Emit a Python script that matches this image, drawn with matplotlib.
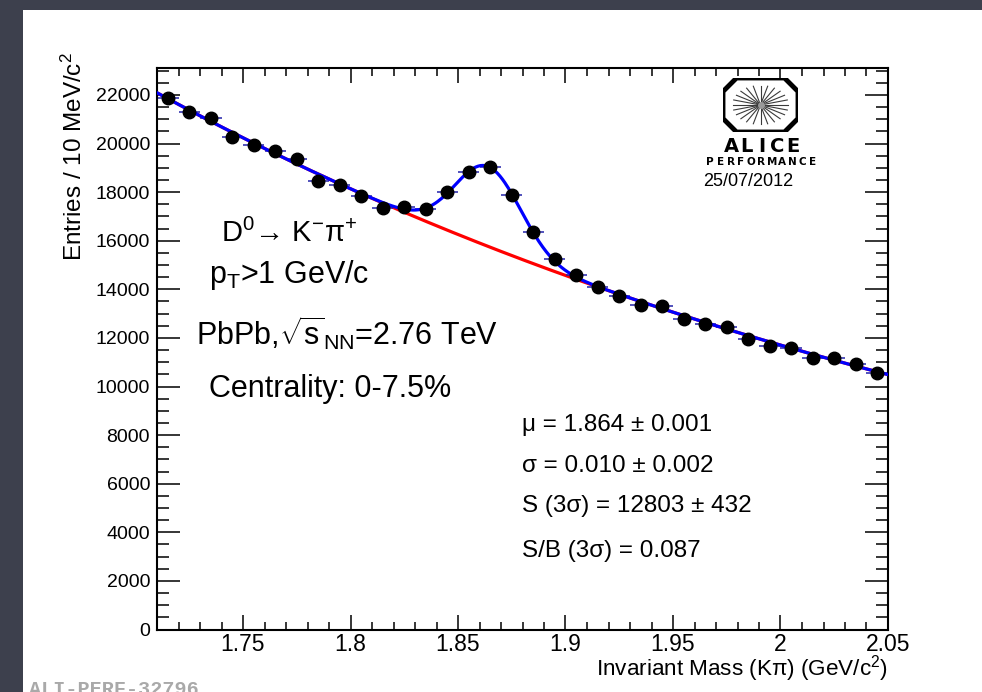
import numpy as np
import matplotlib.pyplot as plt
from matplotlib.patches import Rectangle, Polygon

plt.rcParams['font.family'] = ['Liberation Sans', 'DejaVu Sans']
plt.rcParams['mathtext.fontset'] = 'custom'
plt.rcParams['mathtext.rm'] = 'Liberation Sans'
plt.rcParams['mathtext.it'] = 'Liberation Sans:italic'
plt.rcParams['mathtext.default'] = 'regular'

# Kpi invariant mass histogram: bin centres (GeV/c^2) and entries per 10 MeV/c^2
mass = [1.715, 1.725, 1.735, 1.745, 1.755, 1.765, 1.775, 1.785, 1.795, 1.805,
        1.815, 1.825, 1.835, 1.845, 1.855, 1.865, 1.875, 1.885, 1.895, 1.905,
        1.915, 1.925, 1.935, 1.945, 1.955, 1.965, 1.975, 1.985, 1.995, 2.005,
        2.015, 2.025, 2.035, 2.045]
entries = [21890, 21290, 21040, 20280, 19940, 19700, 19350, 18470, 18290, 17850,
           17330, 17370, 17300, 17990, 18840, 19020, 17900, 16340, 15230, 14570,
           14100, 13730, 13340, 13310, 12780, 12590, 12450, 11950, 11680, 11580,
           11160, 11190, 10940, 10570]
bin_half_width = 0.005

# fit: exponential background + gaussian signal
bkg_norm = 21850      # background at the first bin centre
bkg_slope = 2.19      # 1/(GeV/c^2)
peak_mean = 1.864
peak_sigma = 0.0153
peak_height = 3290

x_ticks = [1.75, 1.8, 1.85, 1.9, 1.95, 2.0, 2.05]
x_tick_labels = ['1.75', '1.8', '1.85', '1.9', '1.95', '2', '2.05']
y_ticks = list(range(0, 22001, 2000))

decay_label = r'D$^{0}$→ K$^{-}$π$^{+}$'
cut_labels = [r'p$_{T}$>1 GeV/c',
              r'PbPb,$\sqrt{s}_{NN}$=2.76 TeV',
              'Centrality: 0-7.5%']
fit_results = ['μ = 1.864 ± 0.001',
               'σ = 0.010 ± 0.002',
               'S (3σ) = 12803 ± 432',
               'S/B (3σ) = 0.087']

W, H = 982, 692


def fx(px):
    return px / W


def fy(py):
    return 1 - py / H


def background(x):
    return bkg_norm * np.exp(-bkg_slope * (x - mass[0]))


def total(x):
    return background(x) + peak_height * np.exp(-0.5 * ((x - peak_mean) / peak_sigma) ** 2)


fig = plt.figure(figsize=(W / 100, H / 100), dpi=100, facecolor='#3d404d')
fig.add_artist(Rectangle((fx(23), 0), 1, fy(10), transform=fig.transFigure,
                         facecolor='white', edgecolor='none', zorder=-1))

ax = fig.add_axes([fx(157), fy(629.5), fx(888) - fx(157), fy(67.5) - fy(629.5)])
ax.set_xlim(1.71, 2.05)
ax.set_ylim(0, 23130)

xs = np.linspace(1.71, 2.05, 600)
ax.plot(xs, background(xs), color='#ff0000', lw=2.3, zorder=2)
ax.plot(xs, total(xs), color='#0000ff', lw=2.3, zorder=3)
ax.errorbar(mass, entries, xerr=bin_half_width, fmt='none', ecolor='#2222aa',
            elinewidth=1.1, capsize=0, zorder=2.5)
ax.plot(mass, entries, 'o', color='black', ms=9, zorder=4)

ax.set_xticks(x_ticks)
ax.set_xticklabels(x_tick_labels)
ax.set_xticks(np.arange(1.71, 2.0501, 0.01), minor=True)
ax.set_yticks(y_ticks)
ax.set_yticks(np.arange(0, 23001, 500), minor=True)
ax.tick_params(which='both', direction='in', top=True, right=True, width=1.1, color='black')
ax.tick_params(axis='x', which='major', length=11, labelsize=16.5, pad=2.5)
ax.tick_params(axis='x', which='minor', length=5.5)
ax.tick_params(axis='y', which='major', length=16.5, labelsize=14, pad=5)
ax.tick_params(axis='y', which='minor', length=8.5)
for sp in ax.spines.values():
    sp.set_linewidth(1.5)

fig.text(fx(74), fy(52), r'Entries / 10 MeV/c$^{2}$', rotation=90, ha='center',
         va='top', fontsize=17.5)
fig.text(fx(888), fy(675), r'Invariant Mass (K$\pi$) (GeV/c$^{2}$)', ha='right',
         va='baseline', fontsize=16.2)

fig.text(fx(221), fy(242), decay_label, fontsize=21, va='baseline')
for (px, py), txt in zip([(209, 283), (196, 345), (209, 397)], cut_labels):
    fig.text(fx(px), fy(py), txt, fontsize=22, va='baseline')
for py, txt in zip([431, 472, 512, 557], fit_results):
    fig.text(fx(522), fy(py), txt, fontsize=17.5, va='baseline')

fig.text(fx(29), fy(695), 'ALI-PERF-32796', family='Liberation Mono', weight='bold',
         color='#a9a9a9', fontsize=14.5, va='baseline')

# ALICE performance logo
lax = fig.add_axes([fx(723), fy(132), fx(798) - fx(723), fy(78) - fy(132)])
lax.set_xlim(0, 1)
lax.set_ylim(0, 1)
lax.axis('off')
octagon = [(0.18, 1), (0.82, 1), (1, 0.75), (1, 0.25), (0.82, 0), (0.18, 0),
           (0, 0.25), (0, 0.75)]
lax.add_patch(Polygon(octagon, closed=True, facecolor='white', edgecolor='black',
                      lw=3.5, joinstyle='miter'))
for a in np.linspace(0, 2 * np.pi, 24, endpoint=False):
    lax.plot([0.5, 0.5 + 0.37 * np.cos(a)], [0.5, 0.5 + 0.36 * np.sin(a)],
             color='#3a3a3a', lw=0.8)
lax.plot(0.5, 0.5, 'o', color='#999999', ms=4)

for i, ch in enumerate('ALICE'):
    fig.text(fx(731 + i * 15.5), fy(151.5), ch, family='DejaVu Sans', weight='bold',
             fontsize=14, ha='center', va='baseline')
for i, ch in enumerate('PERFORMANCE'):
    fig.text(fx(710 + i * 10.3), fy(165), ch, family='DejaVu Sans', weight='bold',
             fontsize=7.5, ha='center', va='baseline')
fig.text(fx(703), fy(186), '25/07/2012', fontsize=13, va='baseline')

fig.savefig('out.png', dpi=100, facecolor=fig.get_facecolor())
